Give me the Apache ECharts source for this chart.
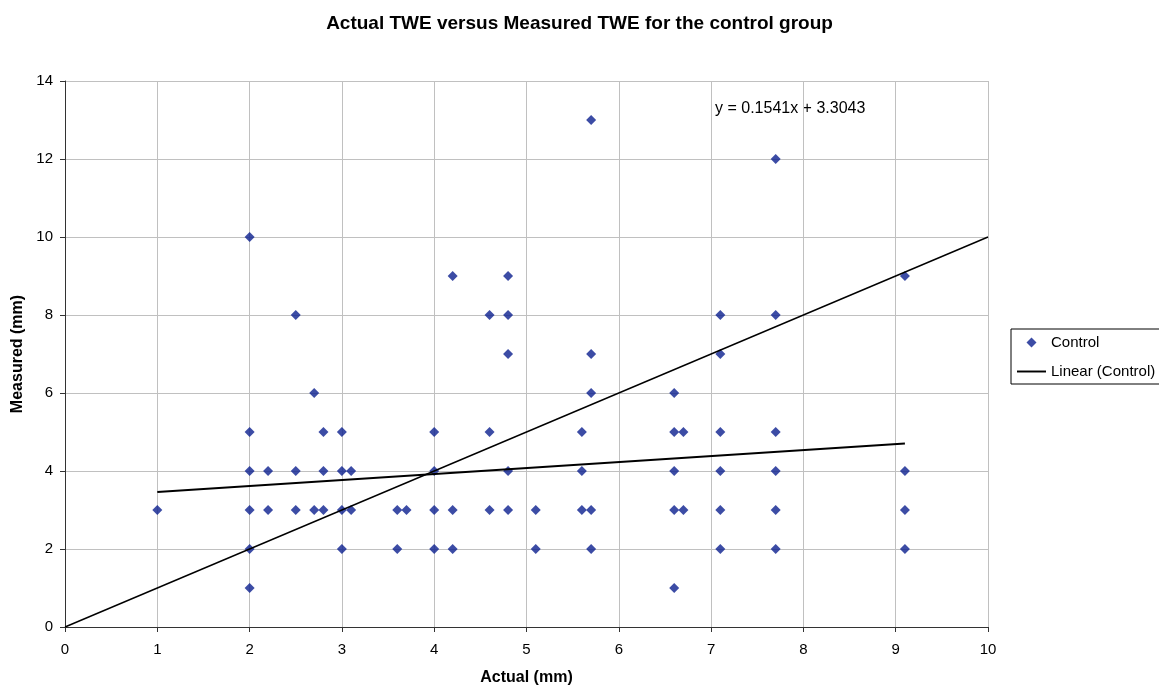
<!DOCTYPE html>
<html>
<head>
<meta charset="utf-8">
<title>Actual TWE versus Measured TWE</title>
<script src="https://cdn.jsdelivr.net/npm/echarts@6/dist/echarts.min.js"></script>
<style>
  html, body { margin: 0; padding: 0; background: #fff; }
  #chart { width: 1159px; height: 686px; }
</style>
</head>
<body>
<div id="chart"></div>
<script>
// control group readings (mm)
const actualMm = [
  1,
  2, 2, 2, 2, 2, 2,
  2.2, 2.2,
  2.5, 2.5, 2.5,
  2.7, 2.7,
  2.8, 2.8, 2.8,
  3, 3, 3, 3,
  3.1, 3.1,
  3.6, 3.6,
  3.7,
  4, 4, 4, 4,
  4.2, 4.2, 4.2,
  4.6, 4.6, 4.6,
  4.8, 4.8, 4.8, 4.8, 4.8,
  5.1, 5.1,
  5.6, 5.6, 5.6,
  5.7, 5.7, 5.7, 5.7, 5.7,
  6.6, 6.6, 6.6, 6.6, 6.6,
  6.7, 6.7,
  7.1, 7.1, 7.1, 7.1, 7.1, 7.1,
  7.7, 7.7, 7.7, 7.7, 7.7, 7.7,
  9.1, 9.1, 9.1, 9.1
];
const measuredMm = [
  3,
  10, 5, 4, 3, 2, 1,
  4, 3,
  8, 4, 3,
  6, 3,
  5, 4, 3,
  5, 4, 3, 2,
  4, 3,
  3, 2,
  3,
  5, 4, 3, 2,
  9, 3, 2,
  8, 5, 3,
  9, 8, 7, 4, 3,
  3, 2,
  5, 4, 3,
  13, 7, 6, 3, 2,
  6, 5, 4, 3, 1,
  5, 3,
  8, 7, 5, 4, 3, 2,
  12, 8, 5, 4, 3, 2,
  9, 4, 3, 2
];

// Excel linear trendline: y = 0.1541x + 3.3043, drawn over the data range
const trendX = [1, 9.1];
const trendY = [3.4584, 4.7066];
const trendLabel = 'y = 0.1541x + 3.3043';

// reference line of perfect agreement
const identityX = [0, 10];
const identityY = [0, 10];

const xTicks = { min: 0, max: 10, step: 1 };
const yTicks = { min: 0, max: 14, step: 2 };

const font = '"Liberation Sans", Arial, sans-serif';
const pointColor = '#0b1f8f';
const pairs = (xs, ys) => xs.map((x, i) => [x, ys[i]]);

const chart = echarts.init(document.getElementById('chart'));

chart.setOption({
  animation: false,
  backgroundColor: '#fff',
  textStyle: { fontFamily: font, color: '#000' },
  title: {
    text: 'Actual TWE versus Measured TWE for the control group',
    left: 'center',
    top: 14,
    padding: 0,
    textStyle: { fontFamily: font, fontSize: 19, fontWeight: 'bold', color: '#000' }
  },
  grid: { left: 65, right: 171, top: 81, bottom: 59, outerBoundsMode: 'none' },
  legend: {
    data: [
      { name: 'Control', icon: 'path://M5,0L10,5L5,10L0,5Z' },
      { name: 'Linear (Control)', icon: 'path://M0,0H30V2H0Z' }
    ],
    orient: 'vertical',
    left: 1011,
    top: 329,
    padding: [6, 12, 5, 6],
    itemWidth: 29,
    itemHeight: 10,
    itemGap: 14,
    symbolKeepAspect: true,
    borderColor: '#000',
    borderWidth: 1,
    textStyle: { fontFamily: font, fontSize: 15, color: '#000' }
  },
  xAxis: {
    type: 'value',
    min: xTicks.min,
    max: xTicks.max,
    interval: xTicks.step,
    name: 'Actual (mm)',
    nameLocation: 'middle',
    nameGap: 43,
    nameTextStyle: { fontFamily: font, fontSize: 16, fontWeight: 'bold', color: '#000' },
    axisLine: { onZero: false, lineStyle: { color: '#333', width: 1 } },
    axisTick: { length: 5, lineStyle: { color: '#333' } },
    axisLabel: { margin: 15, fontSize: 15, color: '#000' },
    splitLine: { show: true, lineStyle: { color: '#c0c0c0', width: 1 } }
  },
  yAxis: {
    type: 'value',
    min: yTicks.min,
    max: yTicks.max,
    interval: yTicks.step,
    name: 'Measured (mm)',
    nameLocation: 'middle',
    nameGap: 38,
    nameTextStyle: { fontFamily: font, fontSize: 16, fontWeight: 'bold', color: '#000' },
    axisLine: { show: true, onZero: false, lineStyle: { color: '#333', width: 1 } },
    axisTick: { show: true, length: 5, lineStyle: { color: '#333' } },
    axisLabel: { margin: 12, fontSize: 15, color: '#000' },
    splitLine: { show: true, lineStyle: { color: '#c0c0c0', width: 1 } }
  },
  graphic: [
    {
      type: 'text',
      left: 715,
      top: 101,
      style: { text: trendLabel, fontFamily: font, fontSize: 16, fill: '#000' }
    }
  ],
  series: [
    {
      name: 'Control',
      type: 'scatter',
      symbol: 'diamond',
      symbolSize: 10,
      itemStyle: { color: pointColor },
      data: pairs(actualMm, measuredMm),
      z: 2
    },
    {
      name: 'y = x',
      type: 'line',
      symbol: 'none',
      silent: true,
      lineStyle: { color: '#000', width: 1.4 },
      data: pairs(identityX, identityY),
      z: 3
    },
    {
      name: 'Linear (Control)',
      type: 'line',
      symbol: 'none',
      lineStyle: { color: '#000', width: 2 },
      itemStyle: { color: '#000' },
      data: pairs(trendX, trendY),
      z: 3
    }
  ]
});
</script>
</body>
</html>
